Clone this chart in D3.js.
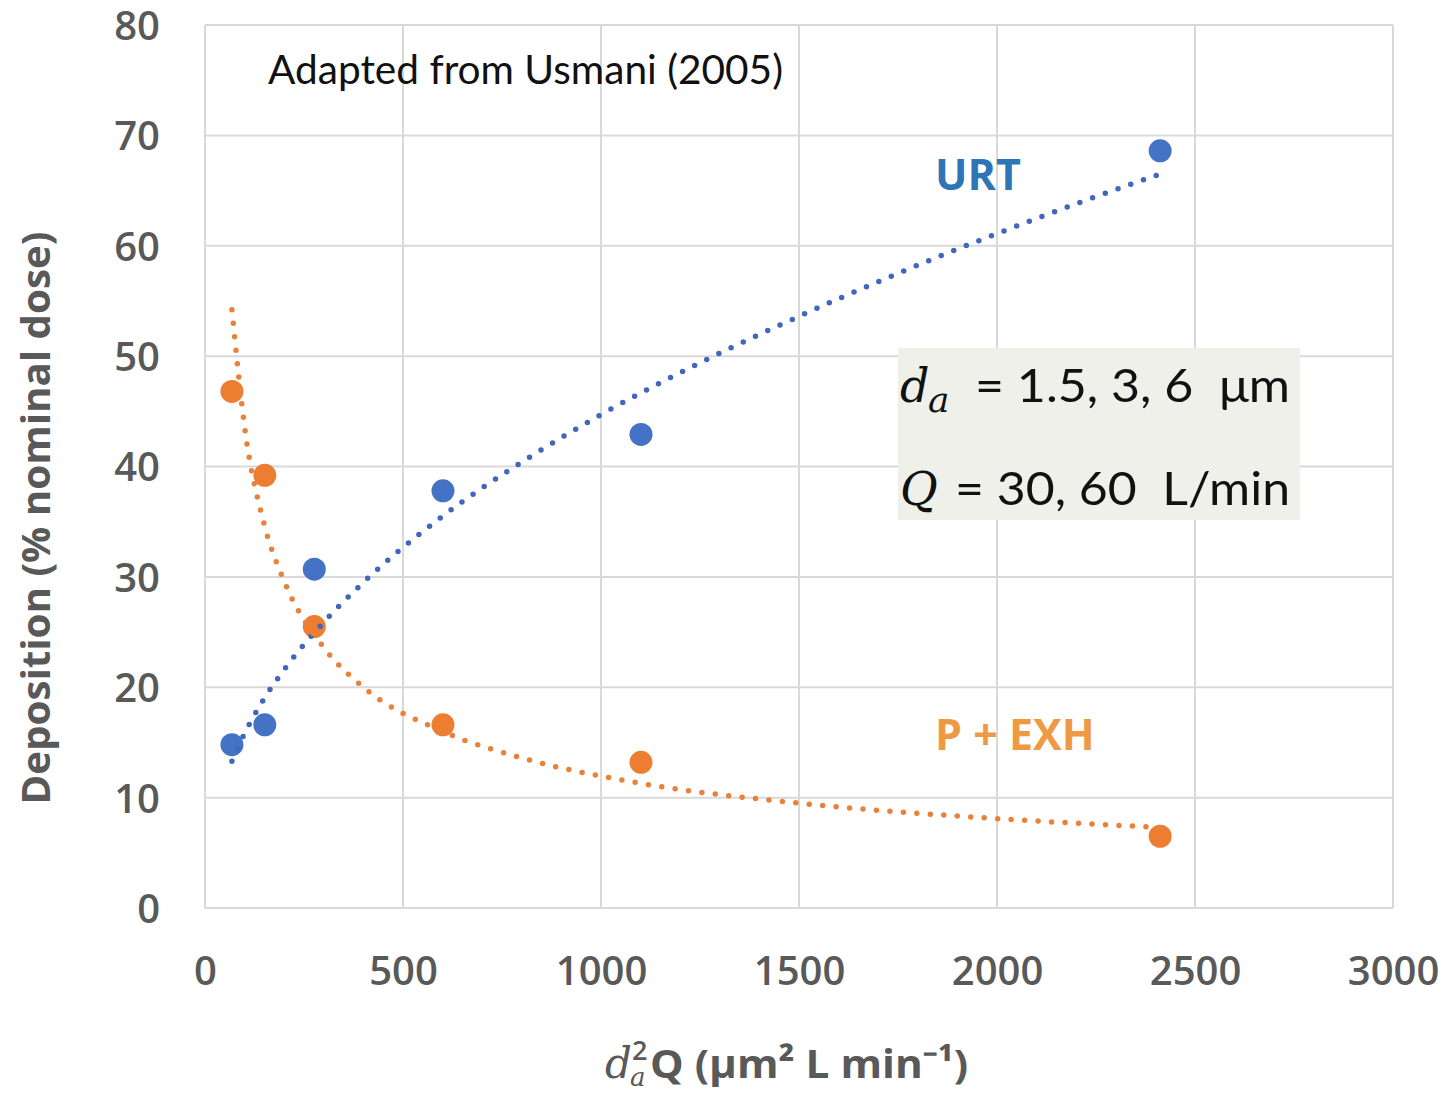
<!DOCTYPE html>
<html>
<head>
<meta charset="utf-8">
<script src="https://cdn.jsdelivr.net/npm/d3@7"></script>
<style>
  body { margin: 0; background: #fff; }
  svg { display: block; }
</style>
</head>
<body>
<div id="chart"></div>
<script>
// measured points (x = da^2 Q, y = % nominal dose)
const xVals = [68, 151, 276, 601, 1101, 2412]
const urtVals = [14.8, 16.6, 30.7, 37.8, 42.9, 68.6]
const pexhVals = [46.8, 39.2, 25.5, 16.6, 13.2, 6.5]

// points
const urtTrendX = [68, 93, 150, 200, 300, 400, 600, 800, 1000, 1250, 1500, 1750, 2000, 2200, 2412]
const urtTrendY = [13.3, 15.3, 19.0, 21.6, 25.9, 29.5, 35.5, 40.4, 44.7, 49.4, 53.6, 57.5, 61.1, 63.8, 66.5]
const pexhTrendX = [68, 100, 150, 200, 300, 400, 600, 800, 1100, 1500, 2000, 2412]
const pexhTrendY = [54.2, 43.6, 34.7, 29.6, 23.6, 20.0, 16.0, 13.6, 11.3, 9.5, 8.1, 7.3]

const xTicks = [0, 500, 1000, 1500, 2000, 2500, 3000]
const yTicks = [0, 10, 20, 30, 40, 50, 60, 70, 80]

const W = 1445, H = 1094
const blue = '#4472C4', orange = '#ED7D31'
const grey = '#595959'

const svg = d3.select('#chart').append('svg')
    .attr('width', W).attr('height', H)

svg.append('rect').attr('width', W).attr('height', H).attr('fill', '#fff')

const x = d3.scaleLinear().domain([0, 3000]).range([205, 1393])
const y = d3.scaleLinear().domain([0, 80]).range([908, 25])

// gridlines
const grid = svg.append('g')
grid.selectAll('.vg').data(xTicks).enter().append('line')
    .attr('x1', d => x(d)).attr('x2', d => x(d))
    .attr('y1', y(0)).attr('y2', y(80))
    .attr('stroke', '#d9d9d9').attr('stroke-width', 2)
grid.selectAll('.hg').data(yTicks).enter().append('line')
    .attr('x1', x(0)).attr('x2', x(3000))
    .attr('y1', d => y(d)).attr('y2', d => y(d))
    .attr('stroke', '#d9d9d9').attr('stroke-width', 2)

// axes (labels only, no domain / ticks)
const xAxis = svg.append('g')
    .attr('transform', `translate(0,${y(0)})`)
    .call(d3.axisBottom(x).tickValues(xTicks).tickSize(0).tickPadding(77).tickFormat(d3.format('d')))
const yAxis = svg.append('g')
    .attr('transform', `translate(${x(0) - 45},0)`)
    .call(d3.axisLeft(y).tickValues(yTicks).tickSize(0).tickPadding(0))
svg.selectAll('.domain').remove()
svg.selectAll('.tick text')
    .attr('fill', grey)
    .style('font-family', '"Open Sans", sans-serif')
    .style('font-weight', 600)
    .style('font-size', '40px')
yAxis.selectAll('.tick text').attr('dy', '0.36em')
xAxis.selectAll('.tick text').attr('dy', '0')

// box with parameters
svg.append('rect')
    .attr('x', 898).attr('y', 348).attr('width', 402).attr('height', 172)
    .attr('fill', '#eef0e9')

const t1 = svg.append('text').attr('fill', '#111')
t1.append('tspan').attr('x', 900).attr('y', 402).text('d')
    .style('font-family', '"DejaVu Serif", serif').style('font-style', 'italic').style('font-size', '46px')
t1.append('tspan').attr('x', 928).attr('y', 412).text('a')
    .style('font-family', '"DejaVu Serif", serif').style('font-style', 'italic').style('font-size', '36px')
svg.append('text').attr('x', 975).attr('y', 402).text('= 1.5, 3, 6  μm')
    .attr('fill', '#111')
    .attr('xml:space', 'preserve')
    .attr('textLength', 315).attr('lengthAdjust', 'spacingAndGlyphs')
    .style('font-family', 'Lato, sans-serif').style('font-size', '47px')

svg.append('text').attr('x', 900).attr('y', 505).text('Q').attr('fill', '#111')
    .style('font-family', '"DejaVu Serif", serif').style('font-style', 'italic').style('font-size', '46px')
svg.append('text').attr('x', 955).attr('y', 505).text('= 30, 60  L/min')
    .attr('fill', '#111')
    .attr('xml:space', 'preserve')
    .attr('textLength', 335).attr('lengthAdjust', 'spacingAndGlyphs')
    .style('font-family', 'Lato, sans-serif').style('font-size', '47px')

// note
svg.append('text').attr('x', 268).attr('y', 84)
    .attr('textLength', 515).attr('lengthAdjust', 'spacingAndGlyphs')
    .style('font-family', 'Lato, sans-serif').style('font-size', '40px').attr('fill', '#111')
    .text('Adapted from Usmani (2005)')

// series labels
svg.append('text').attr('x', 935).attr('y', 190)
    .style('font-family', '"Open Sans", sans-serif').style('font-weight', 700).style('font-size', '43px')
    .attr('fill', '#2E75B6').text('URT')
svg.append('text').attr('x', 935).attr('y', 750)
    .style('font-family', '"Open Sans", sans-serif').style('font-weight', 700).style('font-size', '43px')
    .attr('fill', '#EE9A45').text('P + EXH')

// axis titles
svg.append('text')
    .attr('transform', `translate(50,518) rotate(-90)`)
    .attr('text-anchor', 'middle')
    .attr('textLength', 573).attr('lengthAdjust', 'spacingAndGlyphs')
    .style('font-family', '"Open Sans", sans-serif').style('font-weight', 700).style('font-size', '40px')
    .attr('fill', grey).text('Deposition (% nominal dose)')

const xt = svg.append('text').attr('fill', grey)
xt.append('tspan').attr('x', 605).attr('y', 1078).text('d')
    .style('font-family', '"DejaVu Serif", serif').style('font-style', 'italic').style('font-size', '42px')
xt.append('tspan').attr('x', 632).attr('y', 1060).text('2')
    .style('font-family', '"Open Sans", sans-serif').style('font-weight', 600).style('font-size', '27px')
xt.append('tspan').attr('x', 630).attr('y', 1086).text('a')
    .style('font-family', '"DejaVu Serif", serif').style('font-style', 'italic').style('font-size', '26px')
svg.append('text').attr('x', 650).attr('y', 1078).text('Q (μm² L min⁻¹)')
    .attr('fill', grey)
    .attr('textLength', 318).attr('lengthAdjust', 'spacingAndGlyphs')
    .style('font-family', '"Open Sans", sans-serif').style('font-weight', 700).style('font-size', '40px')

// points
const dots = svg.append('g')
dots.selectAll('.urt').data(xVals.map((v, i) => [v, urtVals[i]])).enter().append('circle')
    .attr('cx', d => x(d[0])).attr('cy', d => y(d[1])).attr('r', 11.5).attr('fill', blue)
dots.selectAll('.pexh').data(xVals.map((v, i) => [v, pexhVals[i]])).enter().append('circle')
    .attr('cx', d => x(d[0])).attr('cy', d => y(d[1])).attr('r', 11.5).attr('fill', orange)

// dotted trend lines
const line = d3.line().x(d => x(d[0])).y(d => y(d[1])).curve(d3.curveMonotoneX)
svg.append('path')
    .datum(urtTrendX.map((v, i) => [v, urtTrendY[i]]))
    .attr('d', line).attr('fill', 'none')
    .attr('stroke', '#4266bd').attr('stroke-width', 5.5)
    .attr('stroke-linecap', 'round').attr('stroke-dasharray', '0 13.5')
svg.append('path')
    .datum(pexhTrendX.map((v, i) => [v, pexhTrendY[i]]))
    .attr('d', line).attr('fill', 'none')
    .attr('stroke', '#e8823a').attr('stroke-width', 5.5)
    .attr('stroke-linecap', 'round').attr('stroke-dasharray', '0 13.5')
</script>
</body>
</html>
